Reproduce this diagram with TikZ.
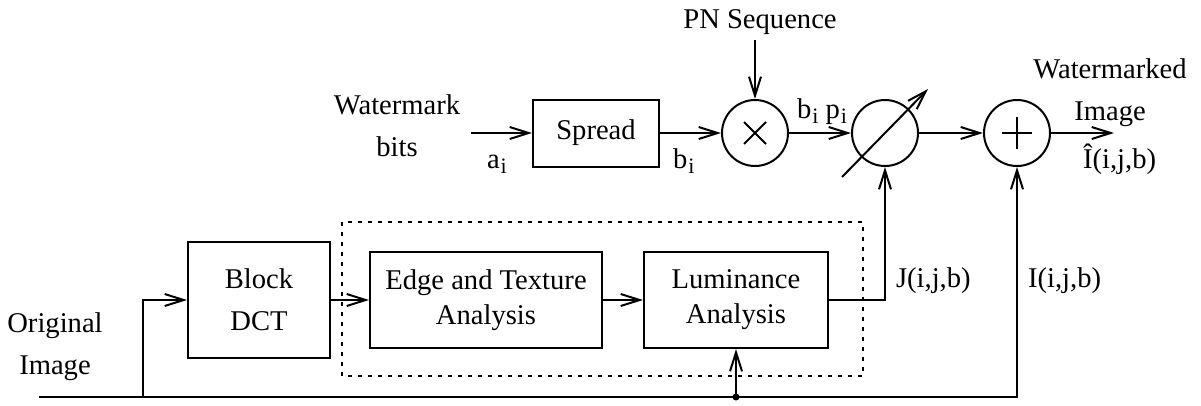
\documentclass[tikz,border=0pt]{standalone}
\usepackage{fontspec}
\setmainfont{Liberation Serif}
\usetikzlibrary{arrows.meta}
\newcommand\subi{\kern1pt\raisebox{-5pt}{\fontsize{22}{22}\selectfont i}}

\begin{document}
\begin{tikzpicture}[x=1pt, y=-1pt, line width=2pt,
    font=\fontsize{28.6}{42}\selectfont,
    >={Straight Barb[length=19pt,width=12pt]},
    block/.style = {draw, align=center, inner sep=0pt},
    twoline/.style = {align=center, font=\fontsize{28.6}{35}\selectfont},
    junction/.style = {circle, draw, minimum size=66pt, inner sep=0pt},
    plain/.style = {anchor=base west, inner sep=0pt}]
\useasboundingbox (0,0) rectangle (1201,405);

\node[block, minimum width=126pt, minimum height=67pt] (spread) at (596,133) {Spread};
\node[junction] (mul) at (755,133) {};
\node[junction] (gain) at (885,133) {};
\node[junction] (add) at (1017,133) {};
\coordinate (bitsin) at (471,133);
\coordinate (pnin) at (755,40);
\coordinate (out) at (1114,133);

\draw[->] (bitsin) -- (spread);
\draw[->] (spread) -- (mul);
\draw[->] (pnin) -- (mul);
\draw[->] (mul) -- (gain);
\draw[->] (gain) -- (add);
\draw[->] (add) -- (out);
\draw (mul.center) +(-11,-11) -- +(11,11) +(-11,11) -- +(11,-11);
\draw (add.center) +(-15,0) -- +(15,0) +(0,-16) -- +(0,16);
\draw[->] ([shift={(-43,44)}]gain.center) -- ([shift={(43,-44)}]gain.center);

\node[block, minimum width=142pt, minimum height=116pt] (dct) at (259,300) {Block\\DCT};
\node[block, twoline, minimum width=232pt, minimum height=96pt] (edge) at (486,300) {Edge and Texture\\Analysis};
\node[block, twoline, minimum width=184pt, minimum height=96pt] (lum) at (736,300) {Luminance\\Analysis};
\draw[dash pattern=on 4pt off 6pt] (342,222) rectangle (863,376);

\coordinate (src) at (39,397);
\coordinate (tap) at (143,398);
\coordinate (split) at (736,397);
\coordinate (corner) at (1017,397);

\draw[->] (src) -- (corner) -- (add);
\draw[->] (tap) |- (dct);
\draw[->] (dct) -- (edge);
\draw[->] (edge) -- (lum);
\draw[->] (split) -- (lum);
\fill (split) circle (3.5);
\draw[->] (lum.east) -| (gain);

\node[align=center] (bitslabel) at (397,126) {Watermark\\bits};
\node[align=center] (srclabel) at (55,347) {Original\\Image};
\node[align=center] (outlabel) at (1110,93) {Watermarked\\Image};
\node[anchor=base] (pnlabel) at (760,28) {PN Sequence};
\node[plain] (alabel) at (486,168) {a\subi};
\node[plain] (blabel) at (672,168) {b\subi};
\node[plain] (bplabel) at (796,118) {b\subi\ p\subi};
\node[plain] (ihatlabel) at (1082,168) {\^{I}(i,j,b)};
\node[plain] (jlabel) at (895,287) {J(i,j,b)};
\node[plain] (ilabel) at (1027,287) {I(i,j,b)};
\end{tikzpicture}
\end{document}
